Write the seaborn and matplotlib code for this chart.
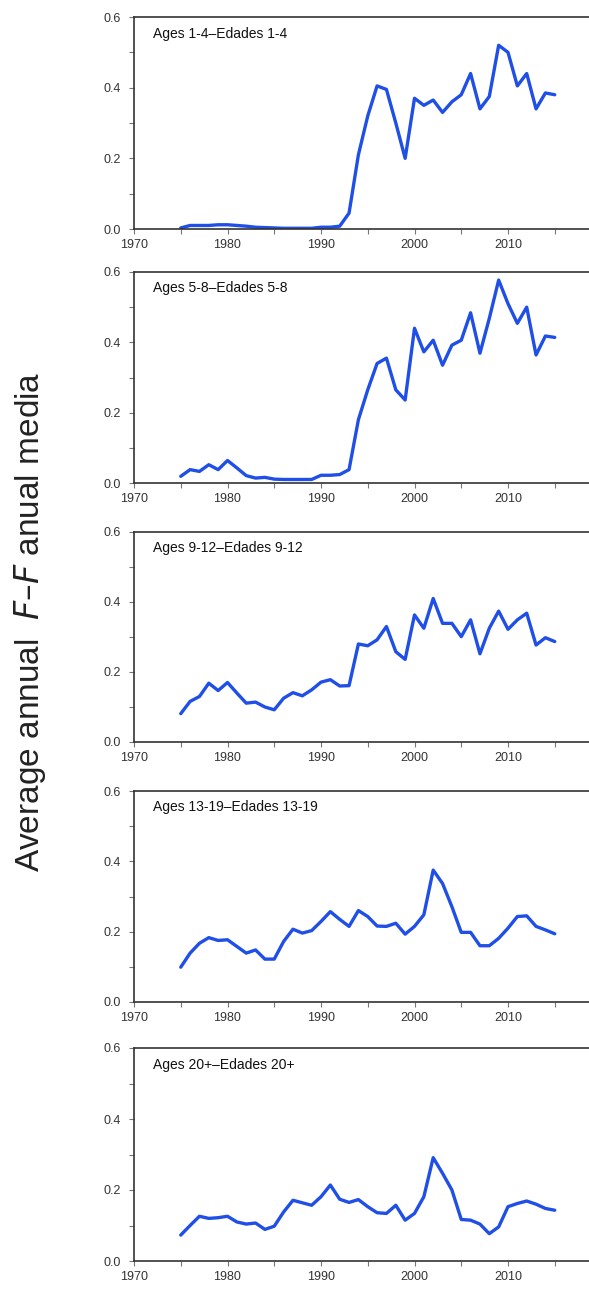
import numpy as np
import pandas as pd
import matplotlib
matplotlib.use("Agg")
import matplotlib.pyplot as plt
import seaborn as sns

years = list(range(1975, 2016))

ages_1_4 = [0.003, 0.010, 0.010, 0.010, 0.012, 0.012, 0.010, 0.008, 0.005, 0.004,
            0.003, 0.002, 0.002, 0.002, 0.002, 0.005, 0.005, 0.008, 0.045, 0.210,
            0.320, 0.405, 0.395, 0.300, 0.200, 0.370, 0.350, 0.365, 0.330, 0.360,
            0.380, 0.440, 0.340, 0.375, 0.520, 0.500, 0.405, 0.440, 0.340, 0.385,
            0.380]
ages_5_8 = [0.019, 0.038, 0.033, 0.052, 0.038, 0.064, 0.043, 0.021, 0.014, 0.016,
            0.011, 0.010, 0.010, 0.010, 0.010, 0.022, 0.022, 0.024, 0.038, 0.180,
            0.265, 0.340, 0.355, 0.265, 0.236, 0.440, 0.373, 0.406, 0.335, 0.392,
            0.406, 0.484, 0.369, 0.468, 0.577, 0.510, 0.454, 0.500, 0.364, 0.418,
            0.414]
ages_9_12 = [0.081, 0.116, 0.130, 0.168, 0.147, 0.170, 0.140, 0.111, 0.114, 0.100,
             0.092, 0.125, 0.141, 0.132, 0.149, 0.171, 0.178, 0.160, 0.161, 0.280,
             0.275, 0.292, 0.330, 0.258, 0.236, 0.363, 0.325, 0.410, 0.339, 0.339,
             0.301, 0.349, 0.252, 0.325, 0.374, 0.322, 0.349, 0.368, 0.277, 0.298,
             0.287]
ages_13_19 = [0.099, 0.139, 0.167, 0.183, 0.175, 0.177, 0.158, 0.139, 0.148, 0.122,
              0.122, 0.172, 0.207, 0.196, 0.203, 0.229, 0.257, 0.235, 0.215, 0.260,
              0.243, 0.216, 0.215, 0.224, 0.193, 0.215, 0.248, 0.375, 0.337, 0.271,
              0.198, 0.198, 0.160, 0.160, 0.181, 0.210, 0.243, 0.245, 0.215, 0.205,
              0.194]
ages_20p = [0.073, 0.100, 0.126, 0.120, 0.122, 0.126, 0.110, 0.104, 0.107, 0.089,
            0.098, 0.138, 0.171, 0.164, 0.157, 0.181, 0.214, 0.174, 0.165, 0.173,
            0.153, 0.136, 0.134, 0.157, 0.115, 0.134, 0.181, 0.291, 0.247, 0.200,
            0.117, 0.115, 0.104, 0.077, 0.096, 0.153, 0.162, 0.169, 0.160, 0.148,
            0.143]

panel_labels = ["Ages 1-4\u2013Edades 1-4", "Ages 5-8\u2013Edades 5-8",
                "Ages 9-12\u2013Edades 9-12", "Ages 13-19\u2013Edades 13-19",
                "Ages 20+\u2013Edades 20+"]
series = [ages_1_4, ages_5_8, ages_9_12, ages_13_19, ages_20p]
xtick_labels = ["1970", "1980", "1990", "2000", "2010"]
ytick_labels = ["0.0", "0.2", "0.4", "0.6"]

sns.set_style("ticks")
plt.rcParams['font.family'] = ['Liberation Sans', 'DejaVu Sans']

fig = plt.figure(figsize=(5.89, 12.89), dpi=100)
W, H = 589.0, 1289.0
left_px, right_px = 134.0, 601.5
panels_px = [(17, 229), (272, 483), (532, 742), (791, 1002), (1048, 1261)]
line_color = "#1f4fe6"
spine_color = "#333333"

for (top, bot), lab, vals in zip(panels_px, panel_labels, series):
    ax = fig.add_axes([left_px / W, 1 - bot / H, (right_px - left_px) / W, (bot - top) / H])
    df = pd.DataFrame({"year": years, "F": vals})
    sns.lineplot(data=df, x="year", y="F", ax=ax, color=line_color, linewidth=2.4)
    ax.set_xlim(1970, 2020)
    ax.set_ylim(0, 0.6)
    ax.set_xticks([1970, 1980, 1990, 2000, 2010])
    ax.set_xticklabels(xtick_labels)
    ax.set_xticks(np.arange(1975, 2020, 10), minor=True)
    ax.set_yticks([0.0, 0.2, 0.4, 0.6])
    ax.set_yticklabels(ytick_labels)
    ax.set_yticks([0.1, 0.3, 0.5], minor=True)
    ax.set_xlabel("")
    ax.set_ylabel("")
    for s in ax.spines.values():
        s.set_color(spine_color)
        s.set_linewidth(1.2)
    ax.tick_params(axis="both", which="both", direction="out", length=3.5,
                   width=0.8, color="#777777", labelsize=9, labelcolor="#333333")
    ax.tick_params(axis="y", which="both", pad=6)
    ax.tick_params(axis="x", which="both", pad=4)
    ax.text(0.04, 0.955, lab, transform=ax.transAxes, ha="left", va="top",
            fontsize=10, color="#111111")

fig.text(30 / W, 1 - 622 / H, "Average annual  $\\it{F}$\u2013$\\it{F}$ anual media",
         rotation=90, ha="center", va="center", fontsize=24, color="#222222")

fig.savefig("out.png", dpi=100, facecolor="white")
